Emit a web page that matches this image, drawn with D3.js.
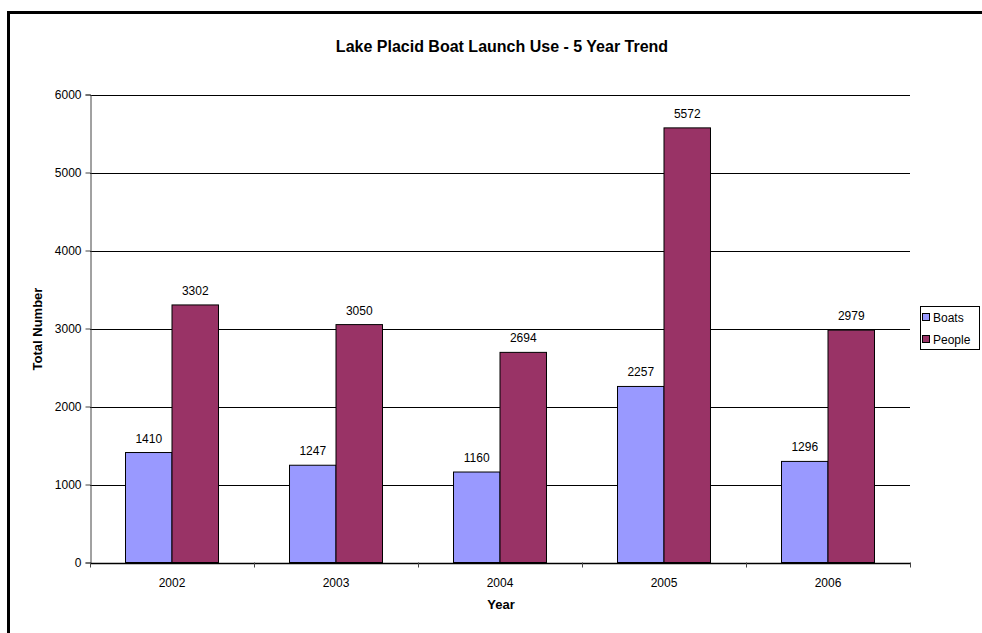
<!DOCTYPE html>
<html>
<head>
<meta charset="utf-8">
<script src="https://cdn.jsdelivr.net/npm/d3@7"></script>
<style>
  body { margin: 0; background: #fff; }
  svg { display: block; font-family: "Liberation Sans", Arial, sans-serif; }
</style>
</head>
<body>
<svg id="chart" width="982" height="633"></svg>
<script>
// Lake Placid boat launch counts by year
const years = ["2002", "2003", "2004", "2005", "2006"];
const boats = [1410, 1247, 1160, 2257, 1296];
const people = [3302, 3050, 2694, 5572, 2979];
const seriesNames = ["Boats", "People"];
const seriesColors = ["#9999FF", "#993366"];
const yTicks = [0, 1000, 2000, 3000, 4000, 5000, 6000];

const svg = d3.select("#chart");

// outer frame
svg.append("rect")
  .attr("x", 8.5).attr("y", 12.5)
  .attr("width", 990).attr("height", 640)
  .attr("fill", "none").attr("stroke", "#000").attr("stroke-width", 3);

const plot = { left: 90, right: 910, top: 94.5, bottom: 562.5 };

const x = d3.scaleBand().domain(years).range([plot.left, plot.right]).paddingInner(0).paddingOuter(0);
const x1 = d3.scaleBand().domain(seriesNames).range([0, x.bandwidth() * 0.567]);
const groupOffset = (x.bandwidth() - x.bandwidth() * 0.567) / 2;
const y = d3.scaleLinear().domain([0, 6000]).range([plot.bottom, plot.top]);

// gridlines
svg.append("g").selectAll("line")
  .data(yTicks.slice(1))
  .join("line")
  .attr("x1", plot.left).attr("x2", plot.right)
  .attr("y1", d => Math.round(y(d)) + 0.5).attr("y2", d => Math.round(y(d)) + 0.5)
  .attr("stroke", "#000").attr("stroke-width", 1);

// bars
const data = years.map((yr, i) => ({ year: yr, values: [boats[i], people[i]] }));
const groups = svg.append("g").selectAll("g")
  .data(data)
  .join("g")
  .attr("transform", d => `translate(${x(d.year) + groupOffset},0)`);

groups.selectAll("rect")
  .data(d => d.values.map((v, j) => ({ name: seriesNames[j], value: v, color: seriesColors[j] })))
  .join("rect")
  .attr("x", d => x1(d.name))
  .attr("y", d => y(d.value))
  .attr("width", x1.bandwidth())
  .attr("height", d => y(0) - y(d.value))
  .attr("fill", d => d.color)
  .attr("stroke", "#000").attr("stroke-width", 1);

groups.selectAll("text")
  .data(d => d.values.map((v, j) => ({ name: seriesNames[j], value: v })))
  .join("text")
  .attr("x", d => x1(d.name) + x1.bandwidth() / 2)
  .attr("y", d => y(d.value) - 10)
  .attr("text-anchor", "middle")
  .attr("font-size", 12)
  .attr("fill", "#000")
  .text(d => d.value);

// y axis
const yAxis = d3.axisLeft(y).tickValues(yTicks).tickSize(5).tickPadding(4).tickFormat(d3.format("d"));
const gy = svg.append("g").attr("transform", `translate(${plot.left + 0.5},0)`).call(yAxis);
gy.select(".domain").attr("stroke", "#444");
gy.selectAll(".tick line").attr("stroke", "#444");
gy.selectAll("text").attr("font-size", 12).attr("font-family", "Liberation Sans, Arial, sans-serif").attr("fill", "#000");

// x axis
const xAxis = d3.axisBottom(x).tickSize(0).tickPadding(15);
const gx = svg.append("g").attr("transform", `translate(0,${plot.bottom + 0.5})`).call(xAxis);
gx.select(".domain").attr("stroke", "#000").attr("stroke-width", 1.5);
gx.selectAll("text").attr("font-size", 12).attr("font-family", "Liberation Sans, Arial, sans-serif").attr("fill", "#000");
// category separators below the axis
svg.append("g").selectAll("line")
  .data(years.map(yr => x(yr)).concat([plot.right]))
  .join("line")
  .attr("x1", d => Math.round(d) + 0.5).attr("x2", d => Math.round(d) + 0.5)
  .attr("y1", plot.bottom).attr("y2", plot.bottom + 5)
  .attr("stroke", "#444");

// titles
svg.append("text")
  .attr("x", 502).attr("y", 52)
  .attr("text-anchor", "middle")
  .attr("font-size", 16).attr("font-weight", "bold")
  .text("Lake Placid Boat Launch Use - 5 Year Trend");

svg.append("text")
  .attr("x", 501).attr("y", 609)
  .attr("text-anchor", "middle")
  .attr("font-size", 13).attr("font-weight", "bold")
  .text("Year");

svg.append("text")
  .attr("transform", "translate(42,329) rotate(-90)")
  .attr("text-anchor", "middle")
  .attr("font-size", 13).attr("font-weight", "bold")
  .text("Total Number");

// legend
const legend = svg.append("g").attr("transform", "translate(920,306)");
legend.append("rect")
  .attr("x", 0.5).attr("y", 0.5).attr("width", 59).attr("height", 43)
  .attr("fill", "#fff").attr("stroke", "#000");
const items = legend.selectAll("g.item")
  .data(seriesNames)
  .join("g")
  .attr("class", "item")
  .attr("transform", (d, i) => `translate(0,${11 + i * 22})`);
items.append("rect")
  .attr("x", 2.5).attr("y", -3.5).attr("width", 7).attr("height", 7)
  .attr("fill", (d, i) => seriesColors[i]).attr("stroke", "#000");
items.append("text")
  .attr("x", 13).attr("y", 4.5)
  .attr("font-size", 12)
  .text(d => d);
</script>
</body>
</html>
